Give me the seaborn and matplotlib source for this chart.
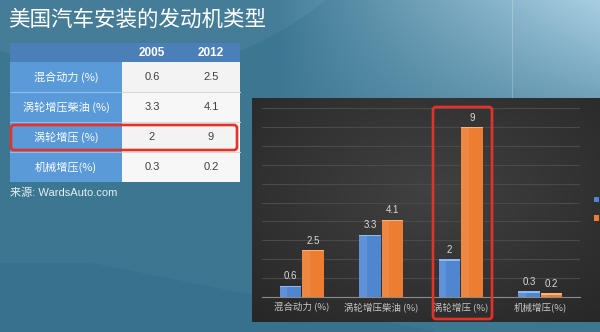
import numpy as np
import pandas as pd
import matplotlib
matplotlib.use("Agg")
import matplotlib.pyplot as plt
import seaborn as sns
from matplotlib.patches import Rectangle, FancyBboxPatch

# ---- data -------------------------------------------------------------
categories = ["混合动力 (%)", "涡轮增压柴油 (%)", "涡轮增压 (%)", "机械增压(%)"]
table_labels = ["混合动力 (%)", "涡轮增压柴油 (%)", "涡轮增压 (%)", "机械增压(%)"]
years = ["2005", "2012"]
values_2005 = [0.6, 3.3, 2, 0.3]
values_2012 = [2.5, 4.1, 9, 0.2]
title = "美国汽车安装的发动机类型"
source = "来源: WardsAuto.com"

sns.set_theme(style="white")
plt.rcParams["font.family"] = ["Noto Sans CJK SC", "DejaVu Sans"]
LATIN = ["Liberation Sans", "Noto Sans CJK SC"]

W, H = 600, 332
fig = plt.figure(figsize=(W / 100, H / 100), dpi=100)

# ---- slide background (pixel coordinates) -----------------------------
bg_ax = fig.add_axes([0, 0, 1, 1], zorder=0)
bg_ax.set_xlim(0, W)
bg_ax.set_ylim(H, 0)
bg_ax.axis("off")

yy, xx = np.mgrid[0:H, 0:W].astype(float)
dark = np.array([0.18, 0.42, 0.53])
light = np.array([0.66, 0.81, 0.89])
t = np.clip((xx - 280) / 320, 0, 1) * np.clip(1 - yy / 180, 0, 1)
w = 0.12 + 0.88 * t ** 0.9
# soft circular sweep behind the title
circ = np.hypot(xx - 120, yy + 250) < 323
w = w + 0.07 * circ
# darker wedge in the lower left
wedge = yy > 262 + 0.2 * np.clip(xx - 90, 0, None)
w = w - 0.05 * wedge
bg = dark[None, None, :] + (light - dark)[None, None, :] * w[..., None]
bg_ax.imshow(np.clip(bg, 0, 1), extent=(0, W, H, 0), aspect="auto",
             interpolation="bilinear", zorder=0)
bg_ax.plot([512, 512], [0, 98], color="white", alpha=0.22, lw=0.8, zorder=1)

# dark chart panel
px0, px1, py0, py1 = 252, 600, 98, 322
pyy, pxx = np.mgrid[py0:py1, px0:px1].astype(float)
d = np.hypot((pxx - 430) / 260, (pyy - 190) / 170)
v = 0.255 - 0.10 * np.clip(d, 0, 1)
panel = np.dstack([v, v, v])
bg_ax.imshow(panel, extent=(px0, px1, py1, py0), aspect="auto",
             interpolation="bilinear", zorder=2)

# title and source
bg_ax.text(8, 20, title, color="white", fontsize=15.5, va="center",
           ha="left", zorder=3)
bg_ax.text(10, 193, source, color="#e6eef2", fontsize=8, va="center",
           ha="left", zorder=3, family=LATIN)

# ---- table ------------------------------------------------------------
col_edges = [10, 122, 182, 240]
row_edges = [43, 62, 92, 122, 152, 182]
header_c = "#4b7fb7"
label_c = "#5b9ad9"
cell_c = ["#f3f3f3", "#f7f7f7"]

bg_ax.add_patch(Rectangle((col_edges[0], row_edges[0]),
                          col_edges[-1] - col_edges[0],
                          row_edges[1] - row_edges[0],
                          facecolor=header_c, edgecolor="none", zorder=3))
for i, yr in enumerate(years):
    cx = (col_edges[i + 1] + col_edges[i + 2]) / 2
    bg_ax.text(cx, (row_edges[0] + row_edges[1]) / 2, yr, color="white",
               fontsize=8.5, fontweight="bold", ha="center", va="center",
               zorder=4, family=LATIN)

for r, lab in enumerate(table_labels):
    y0, y1 = row_edges[r + 1], row_edges[r + 2]
    cy = (y0 + y1) / 2
    bg_ax.add_patch(Rectangle((col_edges[0], y0), col_edges[1] - col_edges[0],
                              y1 - y0, facecolor=label_c, edgecolor="none",
                              zorder=3))
    bg_ax.add_patch(Rectangle((col_edges[1], y0), col_edges[3] - col_edges[1],
                              y1 - y0, facecolor=cell_c[r % 2],
                              edgecolor="none", zorder=3))
    if r > 0:
        bg_ax.plot([col_edges[0], col_edges[1]], [y0, y0], color="#8fbdea",
                   lw=0.8, zorder=4)
        bg_ax.plot([col_edges[1], col_edges[3]], [y0, y0], color="#d9d9d9",
                   lw=0.8, zorder=4)
    bg_ax.text((col_edges[0] + col_edges[1]) / 2, cy, lab, color="white",
               fontsize=8, ha="center", va="center", zorder=4)
    for c, vals in enumerate([values_2005, values_2012]):
        cx = (col_edges[c + 1] + col_edges[c + 2]) / 2
        bg_ax.text(cx, cy, f"{vals[r]:g}", color="#404040", fontsize=8,
                   ha="center", va="center", zorder=4, family=LATIN)

# ---- bar chart --------------------------------------------------------
ax = fig.add_axes([262 / W, 1 - 297 / H, 318 / W, 189 / H], zorder=2)
ax.patch.set_alpha(0)

df = pd.DataFrame({
    "类型": categories * 2,
    "年份": [years[0]] * len(categories) + [years[1]] * len(categories),
    "值": values_2005 + values_2012,
})
sns.barplot(data=df, x="类型", y="值", hue="年份",
            palette=["#4f86cf", "#ed7d31"], width=0.56, gap=0.03,
            saturation=1, linewidth=0, ax=ax, zorder=3)

# light bevel along the top of each bar, slight shading on the left side
for cont, top_c, side_c in zip(ax.containers, ["#8fbaf0", "#f8b27a"],
                               ["#6a9be0", "#f08f4a"]):
    for p in cont.patches:
        ax.add_patch(Rectangle((p.get_x(), 0), p.get_width() * 0.35,
                               p.get_height(), facecolor=side_c,
                               edgecolor="none", alpha=0.6, zorder=3.5))
        ax.add_patch(Rectangle((p.get_x(), p.get_height() - 0.08),
                               p.get_width(), 0.08, facecolor=top_c,
                               edgecolor="none", zorder=4))
    ax.bar_label(cont, labels=[f"{val:g}" for val in cont.datavalues],
                 padding=3, color="#d9d9d9", fontsize=7, family=LATIN)

ax.set_xlim(-0.5, len(categories) - 0.5)
ax.set_ylim(0, 10)
ax.set_yticks(range(0, 11))
ax.yaxis.grid(True, color="#4a4a4a", lw=0.8)
ax.set_axisbelow(True)
ax.tick_params(axis="y", length=0, labelleft=False)
ax.set_xlabel("")
ax.set_ylabel("")
for s in ["top", "left", "right"]:
    ax.spines[s].set_visible(False)
ax.spines["bottom"].set_color("#8c8c8c")
ax.spines["bottom"].set_linewidth(0.8)
ax.set_xticks(np.arange(-0.5, len(categories)), minor=True)
ax.tick_params(axis="x", which="minor", length=4, width=0.8,
               color="#8c8c8c", direction="out")
ax.tick_params(axis="x", which="major", length=0, pad=4,
               labelcolor="#c8c8c8", labelsize=6.8)

# legend sits at the right edge of the slide; only its swatches are in view
handles, labels = ax.get_legend_handles_labels()
leg = ax.legend(handles, labels, loc="center left",
                bbox_to_anchor=(594 / W, 1 - 209 / H),
                bbox_transform=fig.transFigure, frameon=False, fontsize=7,
                labelcolor="#bfbfbf", handlelength=0.55, handleheight=0.55,
                labelspacing=0.85, borderpad=0, borderaxespad=0,
                handletextpad=0.5)
for txt in leg.get_texts():
    txt.set_visible(False)

# ---- highlight frames --------------------------------------------------
top_ax = fig.add_axes([0, 0, 1, 1], zorder=5)
top_ax.patch.set_alpha(0)
top_ax.set_xlim(0, W)
top_ax.set_ylim(H, 0)
top_ax.axis("off")
for (x0, y0, x1, y1) in [(11, 125, 237, 150), (433, 107, 492, 319)]:
    top_ax.add_patch(FancyBboxPatch((x0, y0), x1 - x0, y1 - y0,
                                    boxstyle="round,pad=0,rounding_size=3",
                                    facecolor="none", edgecolor="#e53228",
                                    lw=1.9))

fig.savefig("out.png", dpi=100)
